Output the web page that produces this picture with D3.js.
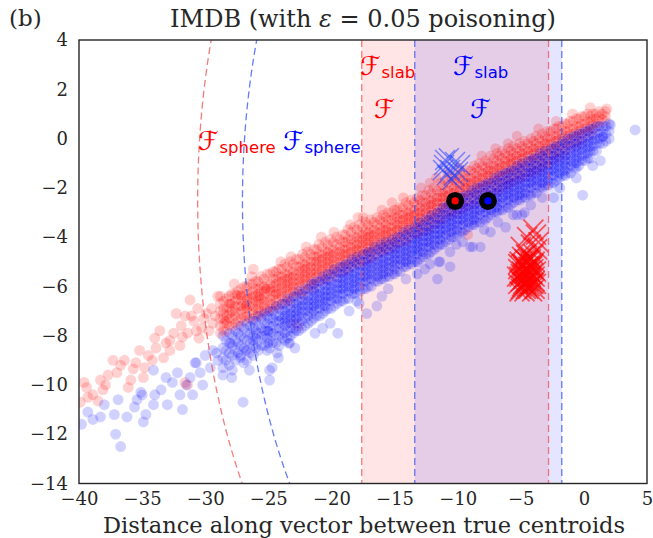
<!DOCTYPE html>
<html><head><meta charset="utf-8">
<script src="https://cdn.jsdelivr.net/npm/d3@7"></script>
<style>body{margin:0;background:#fff}svg{display:block}</style>
</head><body>
<script>
// ---------- data ----------
const xTicks = [-40,-35,-30,-25,-20,-15,-10,-5,0,5];
const yTicks = [4,2,0,-2,-4,-6,-8,-10,-12,-14];
const slabRed = [-17.6, -2.8];
const slabBlue = [-13.4, -1.75];
const centroidRed = [-10.2, -2.53];
const centroidBlue = [-7.6, -2.53];
const sphereRadius = [20.4, 19.45]; // red, blue

// red (clean class) points: columns [x, [y...]]
const redCols = [
[-28.8,[-6.7,-7.0,-7.3,-7.6,-7.9]],[-28.3,[-6.5,-6.9,-7.2,-7.5,-7.8]],[-27.9,[-6.3,-6.7,-7.0,-7.3,-7.6]],
[-27.4,[-6.2,-6.5,-6.8,-7.1,-7.4,-7.6]],[-26.9,[-6.0,-6.4,-6.7,-6.9,-7.2,-7.4]],[-26.5,[-5.9,-6.3,-6.5,-6.8,-7.1,-7.3]],
[-26.0,[-5.8,-6.1,-6.4,-6.6,-6.9,-7.2]],[-25.6,[-5.6,-6.0,-6.2,-6.5,-6.7,-7.0,-7.2]],[-25.1,[-5.5,-5.9,-6.1,-6.3,-6.6,-6.9,-7.0]],
[-24.6,[-5.4,-5.7,-6.0,-6.2,-6.4,-6.7,-6.9]],[-24.2,[-5.3,-5.6,-5.8,-6.1,-6.3,-6.5,-6.8]],[-23.7,[-5.1,-5.5,-5.7,-5.9,-6.1,-6.4,-6.6]],
[-23.3,[-5.0,-5.4,-5.6,-5.8,-6.0,-6.2,-6.5,-6.7]],[-22.8,[-4.9,-5.2,-5.5,-5.7,-5.9,-6.1,-6.3]],[-22.3,[-4.7,-5.1,-5.3,-5.5,-5.7,-5.9,-6.2,-6.4]],
[-21.9,[-4.6,-5.0,-5.2,-5.4,-5.6,-5.8,-6.1]],[-21.4,[-4.5,-4.8,-5.0,-5.3,-5.5,-5.7,-5.9,-6.1]],[-21.0,[-4.3,-4.7,-4.9,-5.1,-5.3,-5.5,-5.8]],
[-20.5,[-4.2,-4.6,-4.8,-5.0,-5.2,-5.4,-5.6,-5.8]],[-20.1,[-4.1,-4.5,-4.7,-4.9,-5.1,-5.3,-5.6]],[-19.6,[-4.0,-4.3,-4.6,-4.8,-5.0,-5.2,-5.4,-5.6]],
[-19.1,[-3.9,-4.2,-4.5,-4.7,-4.9,-5.1,-5.4]],[-18.7,[-3.7,-4.1,-4.3,-4.5,-4.7,-4.9,-5.2,-5.4]],[-18.2,[-3.6,-4.0,-4.2,-4.4,-4.6,-4.8,-5.1]],
[-17.8,[-3.5,-3.9,-4.1,-4.3,-4.5,-4.7,-4.9,-5.1]],[-17.3,[-3.4,-3.8,-4.0,-4.2,-4.4,-4.6,-4.9]],[-16.9,[-3.3,-3.7,-3.9,-4.1,-4.3,-4.5,-4.7,-4.9]],
[-16.4,[-3.2,-3.5,-3.8,-4.0,-4.2,-4.4,-4.7]],[-15.9,[-3.1,-3.4,-3.7,-3.9,-4.1,-4.3,-4.5,-4.6]],[-15.5,[-3.0,-3.3,-3.6,-3.8,-4.0,-4.2,-4.5]],
[-15.0,[-2.9,-3.2,-3.4,-3.6,-3.8,-4.0,-4.2,-4.4]],[-14.6,[-2.8,-3.1,-3.3,-3.5,-3.7,-3.9,-4.2]],[-14.1,[-2.6,-3.0,-3.2,-3.4,-3.6,-3.8,-4.0,-4.2]],
[-13.7,[-2.5,-2.9,-3.1,-3.3,-3.5,-3.7,-4.0]],[-13.2,[-2.4,-2.7,-3.0,-3.2,-3.4,-3.6,-3.8,-3.9]],[-12.8,[-2.3,-2.6,-2.9,-3.1,-3.3,-3.5,-3.8]],
[-12.3,[-2.1,-2.5,-2.7,-2.9,-3.1,-3.3,-3.5,-3.7]],[-11.9,[-2.0,-2.4,-2.6,-2.8,-3.0,-3.2,-3.5]],[-11.4,[-1.8,-2.2,-2.4,-2.6,-2.8,-3.0,-3.2,-3.4]],
[-11.0,[-1.7,-2.1,-2.3,-2.5,-2.7,-2.9,-3.2]],[-10.5,[-1.6,-1.9,-2.2,-2.4,-2.6,-2.8,-3.0,-3.1]],[-10.1,[-1.5,-1.8,-2.1,-2.3,-2.5,-2.7,-3.0]],
[-9.6,[-1.4,-1.7,-1.9,-2.1,-2.3,-2.5,-2.7,-2.9]],[-9.2,[-1.3,-1.6,-1.8,-2.0,-2.2,-2.4,-2.7]],[-8.7,[-1.1,-1.4,-1.7,-1.9,-2.1,-2.3,-2.5,-2.7]],
[-8.3,[-1.0,-1.3,-1.6,-1.8,-2.0,-2.2,-2.5]],[-7.8,[-0.9,-1.2,-1.4,-1.6,-1.8,-2.0,-2.2,-2.4]],[-7.4,[-0.7,-1.1,-1.3,-1.5,-1.7,-1.9,-2.2]],
[-6.9,[-0.6,-0.9,-1.2,-1.4,-1.6,-1.8,-2.0,-2.1]],[-6.5,[-0.5,-0.8,-1.1,-1.3,-1.5,-1.7,-2.0]],[-6.0,[-0.4,-0.7,-0.9,-1.1,-1.3,-1.5,-1.7,-1.9]],
[-5.6,[-0.3,-0.6,-0.8,-1.0,-1.2,-1.4,-1.7]],[-5.1,[-0.2,-0.5,-0.7,-0.9,-1.1,-1.3,-1.5,-1.6]],[-4.7,[-0.1,-0.4,-0.6,-0.8,-1.0,-1.2,-1.5]],
[-4.2,[0.0,-0.3,-0.5,-0.7,-0.9,-1.1,-1.3,-1.4]],[-3.8,[0.1,-0.2,-0.4,-0.6,-0.8,-1.0,-1.3]],[-3.3,[0.2,-0.1,-0.3,-0.5,-0.7,-0.9,-1.1,-1.2]],
[-2.9,[0.3,0.0,-0.2,-0.4,-0.6,-0.8,-1.1]],[-2.4,[0.4,0.1,-0.1,-0.3,-0.5,-0.7,-0.9]],[-2.0,[0.5,0.2,0.0,-0.2,-0.4,-0.6,-0.8]],
[-1.5,[0.6,0.3,0.1,-0.1,-0.3,-0.5,-0.7]],[-1.1,[0.7,0.4,0.2,0.0,-0.2,-0.4]],[-0.6,[0.8,0.5,0.3,0.1,-0.1,-0.3]],
[-0.2,[0.9,0.6,0.4,0.2,0.0,-0.2]],[0.3,[1.0,0.7,0.5,0.3,0.1]],[0.7,[1.0,0.8,0.6,0.4,0.2]],
[1.2,[1.1,0.9,0.7,0.5]],[1.7,[1.1,0.9,0.7]],
// second pass of columns
[-28.55,[-6.6,-6.9,-7.1,-7.3,-7.5,-7.8]],[-28.1,[-6.4,-6.7,-6.9,-7.1,-7.3,-7.6]],[-27.65,[-6.3,-6.6,-6.8,-7.0,-7.2,-7.5]],
[-27.15,[-6.1,-6.4,-6.6,-6.8,-7.0,-7.3]],[-26.7,[-6.0,-6.3,-6.5,-6.7,-6.9,-7.2]],[-26.25,[-5.9,-6.2,-6.4,-6.6,-6.8,-7.0,-7.3]],
[-25.8,[-5.8,-6.1,-6.3,-6.5,-6.7,-6.9,-7.1]],[-25.35,[-5.7,-6.0,-6.2,-6.4,-6.6,-6.8,-7.0]],[-24.85,[-5.5,-5.9,-6.1,-6.2,-6.5,-6.7,-6.9]],
[-24.4,[-5.4,-5.7,-5.9,-6.1,-6.3,-6.5,-6.8]],[-23.95,[-5.3,-5.6,-5.8,-6.0,-6.2,-6.4,-6.7]],[-23.5,[-5.2,-5.5,-5.7,-5.9,-6.1,-6.3,-6.6]],
[-23.05,[-5.1,-5.4,-5.6,-5.8,-6.0,-6.2,-6.4]],[-22.55,[-4.9,-5.2,-5.4,-5.6,-5.8,-6.0,-6.3]],[-22.1,[-4.8,-5.1,-5.3,-5.5,-5.7,-5.9,-6.2]],
[-21.65,[-4.7,-5.0,-5.2,-5.4,-5.6,-5.8,-6.0]],[-21.2,[-4.5,-4.8,-5.0,-5.2,-5.4,-5.6,-5.9]],[-20.75,[-4.4,-4.7,-4.9,-5.1,-5.3,-5.5,-5.7]],
[-20.3,[-4.3,-4.6,-4.8,-5.0,-5.2,-5.4,-5.7]],[-19.85,[-4.2,-4.5,-4.7,-4.9,-5.1,-5.3,-5.5]],[-19.35,[-4.1,-4.4,-4.6,-4.8,-5.0,-5.2,-5.4]],
[-18.9,[-3.9,-4.2,-4.5,-4.7,-4.9,-5.1,-5.3]],[-18.45,[-3.8,-4.1,-4.4,-4.6,-4.8,-5.0,-5.2]],[-18.0,[-3.7,-4.0,-4.3,-4.5,-4.7,-4.9,-5.1]],
[-17.55,[-3.6,-3.9,-4.1,-4.3,-4.5,-4.7,-5.0]],[-17.1,[-3.5,-3.8,-4.0,-4.2,-4.4,-4.6,-4.9]],[-16.65,[-3.4,-3.7,-3.9,-4.1,-4.3,-4.5,-4.8]],
[-16.15,[-3.3,-3.6,-3.8,-4.0,-4.2,-4.4,-4.6]],[-15.7,[-3.2,-3.5,-3.7,-3.9,-4.1,-4.3,-4.5]],[-15.25,[-3.0,-3.3,-3.6,-3.8,-4.0,-4.2,-4.4]],
[-14.8,[-2.9,-3.2,-3.5,-3.7,-3.9,-4.1,-4.3]],[-14.35,[-2.8,-3.1,-3.3,-3.5,-3.7,-3.9,-4.2]],[-13.9,[-2.7,-3.0,-3.2,-3.4,-3.6,-3.8,-4.1]],
[-13.45,[-2.6,-2.9,-3.1,-3.3,-3.5,-3.7,-3.9]],[-13.0,[-2.5,-2.8,-3.0,-3.2,-3.4,-3.6,-3.8]],[-12.55,[-2.3,-2.6,-2.8,-3.0,-3.2,-3.4,-3.7]],
[-12.1,[-2.2,-2.5,-2.7,-2.9,-3.1,-3.3,-3.6]],[-11.65,[-2.1,-2.4,-2.6,-2.8,-3.0,-3.2,-3.4]],[-11.2,[-1.9,-2.2,-2.4,-2.6,-2.8,-3.0,-3.3]],
[-10.75,[-1.8,-2.1,-2.3,-2.5,-2.7,-2.9,-3.1]],[-10.3,[-1.7,-2.0,-2.2,-2.4,-2.6,-2.8,-3.0]],[-9.85,[-1.6,-1.9,-2.1,-2.3,-2.5,-2.7,-2.9]],
[-9.4,[-1.5,-1.8,-2.0,-2.2,-2.4,-2.6,-2.8]],[-8.95,[-1.3,-1.6,-1.8,-2.0,-2.2,-2.4,-2.7]],[-8.5,[-1.2,-1.5,-1.7,-1.9,-2.1,-2.3,-2.6]],
[-8.05,[-1.1,-1.4,-1.6,-1.8,-2.0,-2.2,-2.4]],[-7.6,[-1.0,-1.3,-1.5,-1.7,-1.9,-2.1,-2.3]],[-7.15,[-0.8,-1.1,-1.3,-1.5,-1.7,-1.9,-2.2]],
[-6.7,[-0.7,-1.0,-1.2,-1.4,-1.6,-1.8,-2.1]],[-6.25,[-0.6,-0.9,-1.1,-1.3,-1.5,-1.7,-1.9]],[-5.8,[-0.5,-0.8,-1.0,-1.2,-1.4,-1.6,-1.8]],
[-5.35,[-0.4,-0.7,-0.9,-1.1,-1.3,-1.5,-1.7]],[-4.9,[-0.3,-0.6,-0.8,-1.0,-1.2,-1.4,-1.6]],[-4.45,[-0.2,-0.5,-0.7,-0.9,-1.1,-1.3,-1.5]],
[-4.0,[-0.1,-0.4,-0.6,-0.8,-1.0,-1.2,-1.4]],[-3.55,[0.0,-0.3,-0.5,-0.7,-0.9,-1.1,-1.3]],[-3.1,[0.1,-0.2,-0.4,-0.6,-0.8,-1.0]],
[-2.65,[0.3,0.0,-0.2,-0.4,-0.6,-0.9]],[-2.2,[0.4,0.1,-0.1,-0.3,-0.5,-0.7]],[-1.75,[0.5,0.2,0.0,-0.2,-0.4,-0.6]],
[-1.3,[0.6,0.3,0.1,-0.1,-0.3]],[-0.85,[0.7,0.4,0.2,0.0,-0.2]],[-0.4,[0.8,0.5,0.3,0.1,-0.1]],
[0.05,[0.9,0.6,0.4,0.2]],[0.5,[0.9,0.7,0.5,0.3]],[0.95,[1.0,0.8,0.6]],[1.45,[1.0,0.8]]
];
const redExtra = [
[-39.9,-10.7],[-39.4,-10.1],[-39.3,-10.5],[-38.5,-10.65],[-38.3,-9.8],[-38.1,-10.2],[-37.7,-9.6],[-37.3,-9.0],[-36.7,-9.2],
[-36.1,-10.1],[-35.7,-9.35],[-35.2,-8.6],[-34.9,-9.7],[-34.8,-9.3],[-34.0,-8.1],[-33.6,-7.8],[-32.8,-8.6],[-32.8,-8.2],
[-32.3,-7.1],[-31.8,-8.05],[-31.6,-7.2],[-31.2,-6.55],[-31.1,-7.2],[-30.7,-7.8],[-30.3,-7.7],[-29.9,-7.1],[-29.4,-7.5],
[-29.0,-6.4],[-28.8,-6.4],[-28.4,-7.4],[-28.0,-6.7],[-27.5,-6.35],[-27.2,-6.35],[-26.8,-6.8],[-26.2,-5.3],[-25.7,-6.4],
[-25.2,-6.1],[-22.6,-7.6],[-23.0,-7.5],[-31.6,-9.9],[-31.4,-10.0],[-18.5,-3.5],[-17.9,-3.2],[-12.2,-1.8],[-9.2,-3.9],
[-6.0,-0.2],[1.8,1.2],[-39.6,-9.9],[-38.9,-10.4],[-37.9,-10.0],[-37.0,-9.5],[-36.4,-9.0],[-35.9,-9.8],[-35.5,-9.1],
[-34.5,-8.8],[-34.2,-9.0],[-33.9,-8.5],[-33.3,-8.9],[-33.1,-8.3],[-32.5,-7.9],[-32.0,-8.4],[-31.9,-7.6],[-31.4,-7.9],
[-30.9,-7.4],[-30.5,-8.1],[-30.1,-7.3],[-29.7,-7.8],[-29.5,-6.9],[-29.2,-7.2],[-30.6,-6.9],
[-27.7,-5.9],[-26.3,-5.6],[-24.0,-5.0],[-22.0,-4.4],[-20.8,-4.0],[-19.8,-3.8],[-17.5,-3.2],[-16.0,-2.9],[-14.3,-2.4],
[-12.9,-2.0],[-11.7,-1.6],[-9.9,-1.2],[-8.1,-0.7],[-7.0,-0.4],[-5.3,0.1],[-3.6,0.4],[-2.2,0.7],[-0.9,1.0],[0.5,1.25],
[-23.2,-4.8],[-15.2,-2.6],[-10.8,-1.4]
];
// blue (clean class) points
const blueCols = [
[-28.6,[-8.0,-8.5,-8.9,-9.3]],[-28.1,[-7.9,-8.3,-8.7,-9.2]],[-27.6,[-7.8,-8.2,-8.6,-9.0]],[-27.2,[-7.6,-8.0,-8.4,-8.8]],
[-26.7,[-7.5,-7.9,-8.2,-8.6,-9.0]],[-26.2,[-7.4,-7.7,-8.0,-8.4,-8.8]],[-25.8,[-7.2,-7.6,-7.9,-8.2,-8.6]],[-25.3,[-7.1,-7.5,-7.8,-8.0,-8.4]],
[-24.9,[-7.0,-7.3,-7.6,-7.9,-8.2,-8.5]],[-24.4,[-6.8,-7.2,-7.4,-7.7,-8.0,-8.3]],[-23.9,[-6.7,-7.0,-7.3,-7.5,-7.8,-8.1]],
[-23.5,[-6.5,-6.9,-7.1,-7.3,-7.5,-7.8,-8.1]],[-23.0,[-6.4,-6.7,-7.0,-7.2,-7.4,-7.7,-7.9]],[-22.6,[-6.2,-6.6,-6.8,-7.0,-7.2,-7.5,-7.8]],
[-22.1,[-6.1,-6.4,-6.6,-6.8,-7.0,-7.3,-7.6]],[-21.6,[-5.9,-6.2,-6.5,-6.7,-6.9,-7.1,-7.4]],[-21.2,[-5.8,-6.1,-6.3,-6.5,-6.7,-6.9,-7.2]],
[-20.7,[-5.6,-5.9,-6.2,-6.4,-6.6,-6.8,-7.1]],[-20.3,[-5.5,-5.8,-6.0,-6.2,-6.4,-6.6,-6.9]],[-19.8,[-5.3,-5.6,-5.9,-6.1,-6.3,-6.5,-6.8]],
[-19.3,[-5.2,-5.5,-5.7,-5.9,-6.1,-6.3,-6.6]],[-18.9,[-5.1,-5.4,-5.6,-5.8,-6.0,-6.2,-6.5]],[-18.4,[-4.9,-5.2,-5.5,-5.7,-5.9,-6.1,-6.3]],
[-18.0,[-4.8,-5.1,-5.4,-5.6,-5.8,-6.0,-6.3]],[-17.5,[-4.7,-5.0,-5.2,-5.4,-5.6,-5.8,-6.1]],[-17.1,[-4.6,-4.9,-5.1,-5.3,-5.5,-5.7,-6.0]],
[-16.6,[-4.4,-4.7,-5.0,-5.2,-5.4,-5.6,-5.8]],[-16.1,[-4.3,-4.6,-4.9,-5.1,-5.3,-5.5,-5.7]],[-15.7,[-4.2,-4.5,-4.8,-5.0,-5.2,-5.4,-5.6]],
[-15.2,[-4.1,-4.4,-4.6,-4.8,-5.0,-5.2,-5.5]],[-14.8,[-4.0,-4.3,-4.5,-4.7,-4.9,-5.1,-5.4]],[-14.3,[-3.8,-4.1,-4.4,-4.6,-4.8,-5.0,-5.2]],
[-13.9,[-3.7,-4.0,-4.3,-4.5,-4.7,-4.9,-5.1]],[-13.4,[-3.6,-3.9,-4.1,-4.3,-4.5,-4.7,-5.0]],[-13.0,[-3.4,-3.7,-4.0,-4.2,-4.4,-4.6,-4.9]],
[-12.5,[-3.3,-3.6,-3.8,-4.0,-4.2,-4.4,-4.7]],[-12.1,[-3.1,-3.4,-3.7,-3.9,-4.1,-4.3,-4.6]],[-11.6,[-3.0,-3.3,-3.5,-3.7,-3.9,-4.1,-4.4]],
[-11.2,[-2.8,-3.1,-3.4,-3.6,-3.8,-4.0,-4.3]],[-10.7,[-2.7,-3.0,-3.2,-3.4,-3.6,-3.8,-4.1]],[-10.3,[-2.5,-2.8,-3.1,-3.3,-3.5,-3.7,-4.0]],
[-9.8,[-2.4,-2.7,-2.9,-3.1,-3.3,-3.5,-3.8]],[-9.4,[-2.3,-2.6,-2.8,-3.0,-3.2,-3.4,-3.7]],[-8.9,[-2.1,-2.4,-2.7,-2.9,-3.1,-3.3,-3.5]],
[-8.5,[-2.0,-2.3,-2.6,-2.8,-3.0,-3.2,-3.4]],[-8.0,[-1.9,-2.2,-2.4,-2.6,-2.8,-3.0,-3.3]],[-7.6,[-1.8,-2.1,-2.3,-2.5,-2.7,-2.9,-3.2]],
[-7.1,[-1.6,-1.9,-2.2,-2.4,-2.6,-2.8,-3.0]],[-6.7,[-1.5,-1.8,-2.1,-2.3,-2.5,-2.7,-2.9]],[-6.2,[-1.4,-1.7,-1.9,-2.1,-2.3,-2.5,-2.8]],
[-5.8,[-1.3,-1.6,-1.8,-2.0,-2.2,-2.4,-2.7]],[-5.3,[-1.1,-1.4,-1.7,-1.9,-2.1,-2.3,-2.5]],[-4.9,[-1.0,-1.3,-1.6,-1.8,-2.0,-2.2,-2.4]],
[-4.4,[-0.9,-1.2,-1.4,-1.6,-1.8,-2.0,-2.3]],[-4.0,[-0.8,-1.1,-1.3,-1.5,-1.7,-1.9,-2.2]],[-3.5,[-0.6,-0.9,-1.2,-1.4,-1.6,-1.8,-2.0]],
[-3.1,[-0.5,-0.8,-1.1,-1.3,-1.5,-1.7,-1.9]],[-2.6,[-0.4,-0.7,-0.9,-1.1,-1.3,-1.5,-1.8]],[-2.2,[-0.3,-0.6,-0.8,-1.0,-1.2,-1.4,-1.7]],
[-1.7,[-0.1,-0.4,-0.7,-0.9,-1.1,-1.3,-1.5]],[-1.3,[0.0,-0.3,-0.6,-0.8,-1.0,-1.2,-1.4]],[-0.8,[0.1,-0.2,-0.4,-0.6,-0.8,-1.0,-1.2]],
[-0.4,[0.2,-0.1,-0.3,-0.5,-0.7,-0.9,-1.1]],[0.1,[0.3,0.0,-0.2,-0.4,-0.6,-0.9]],[0.5,[0.4,0.1,-0.1,-0.3,-0.5,-0.8]],
[1.0,[0.5,0.2,0.0,-0.2,-0.5]],[1.5,[0.5,0.3,0.1,-0.2]],[2.0,[0.6,0.3,0.0]],
// second pass of columns
[-28.35,[-8.2,-8.6,-9.0]],[-27.85,[-8.0,-8.4,-8.8,-9.4]],[-27.4,[-7.9,-8.3,-8.7]],[-26.95,[-7.7,-8.1,-8.5,-9.1]],
[-26.45,[-7.6,-7.9,-8.3,-8.7]],[-26.0,[-7.4,-7.8,-8.1,-8.5]],[-25.55,[-7.3,-7.7,-8.0,-8.4]],[-25.1,[-7.2,-7.5,-7.8,-8.1,-8.6]],
[-24.65,[-7.0,-7.3,-7.6,-7.9,-8.3]],[-24.15,[-6.9,-7.2,-7.4,-7.7,-8.0,-8.4]],[-23.7,[-6.7,-7.0,-7.2,-7.4,-7.6,-7.9,-8.2]],
[-23.25,[-6.6,-6.9,-7.1,-7.3,-7.5,-7.7,-8.0]],[-22.8,[-6.4,-6.7,-6.9,-7.1,-7.3,-7.5,-7.8]],[-22.35,[-6.3,-6.6,-6.8,-7.0,-7.2,-7.4,-7.7]],
[-21.85,[-6.1,-6.4,-6.6,-6.8,-7.0,-7.2,-7.5]],[-21.4,[-5.9,-6.2,-6.4,-6.6,-6.8,-7.0,-7.3]],[-20.95,[-5.8,-6.1,-6.3,-6.5,-6.7,-6.9,-7.2]],
[-20.5,[-5.7,-6.0,-6.2,-6.4,-6.6,-6.8,-7.0]],[-20.05,[-5.5,-5.8,-6.0,-6.2,-6.4,-6.6,-6.9]],[-19.55,[-5.4,-5.7,-5.9,-6.1,-6.3,-6.5,-6.7]],
[-19.1,[-5.2,-5.5,-5.7,-5.9,-6.1,-6.3,-6.6]],[-18.65,[-5.1,-5.4,-5.6,-5.8,-6.0,-6.2,-6.5]],[-18.2,[-5.0,-5.3,-5.5,-5.7,-5.9,-6.1,-6.3]],
[-17.75,[-4.9,-5.2,-5.4,-5.6,-5.8,-6.0,-6.2]],[-17.3,[-4.7,-5.0,-5.2,-5.4,-5.6,-5.8,-6.1]],[-16.85,[-4.6,-4.9,-5.1,-5.3,-5.5,-5.7,-6.0]],
[-16.35,[-4.5,-4.8,-5.0,-5.2,-5.4,-5.6,-5.8]],[-15.9,[-4.4,-4.7,-4.9,-5.1,-5.3,-5.5,-5.7]],[-15.45,[-4.3,-4.6,-4.8,-5.0,-5.2,-5.4,-5.6]],
[-15.0,[-4.2,-4.5,-4.7,-4.9,-5.1,-5.3,-5.5]],[-14.55,[-4.0,-4.3,-4.5,-4.7,-4.9,-5.1,-5.4]],[-14.1,[-3.9,-4.2,-4.4,-4.6,-4.8,-5.0,-5.2]],
[-13.65,[-3.8,-4.1,-4.3,-4.5,-4.7,-4.9,-5.1]],[-13.2,[-3.6,-3.9,-4.1,-4.3,-4.5,-4.7,-5.0]],[-12.75,[-3.5,-3.8,-4.0,-4.2,-4.4,-4.6,-4.8]],
[-12.3,[-3.3,-3.6,-3.8,-4.0,-4.2,-4.4,-4.7]],[-11.85,[-3.2,-3.5,-3.7,-3.9,-4.1,-4.3,-4.5]],[-11.4,[-3.0,-3.3,-3.5,-3.7,-3.9,-4.1,-4.3]],
[-10.95,[-2.8,-3.1,-3.3,-3.5,-3.7,-3.9,-4.2]],[-10.5,[-2.7,-3.0,-3.2,-3.4,-3.6,-3.8,-4.0]],[-10.05,[-2.6,-2.9,-3.1,-3.3,-3.5,-3.7,-3.9]],
[-9.6,[-2.4,-2.7,-2.9,-3.1,-3.3,-3.5,-3.8]],[-9.15,[-2.3,-2.6,-2.8,-3.0,-3.2,-3.4,-3.6]],[-8.7,[-2.2,-2.5,-2.7,-2.9,-3.1,-3.3,-3.5]],
[-8.25,[-2.0,-2.3,-2.5,-2.7,-2.9,-3.1,-3.4]],[-7.8,[-1.9,-2.2,-2.4,-2.6,-2.8,-3.0,-3.3]],[-7.35,[-1.8,-2.1,-2.3,-2.5,-2.7,-2.9,-3.1]],
[-6.9,[-1.7,-2.0,-2.2,-2.4,-2.6,-2.8,-3.0]],[-6.45,[-1.5,-1.8,-2.0,-2.2,-2.4,-2.6,-2.9]],[-6.0,[-1.4,-1.7,-1.9,-2.1,-2.3,-2.5,-2.8]],
[-5.55,[-1.3,-1.6,-1.8,-2.0,-2.2,-2.4,-2.6]],[-5.1,[-1.2,-1.5,-1.7,-1.9,-2.1,-2.3,-2.5]],[-4.65,[-1.1,-1.4,-1.6,-1.8,-2.0,-2.2,-2.4]],
[-4.2,[-0.9,-1.2,-1.4,-1.6,-1.8,-2.0,-2.3]],[-3.75,[-0.8,-1.1,-1.3,-1.5,-1.7,-1.9,-2.2]],[-3.3,[-0.7,-1.0,-1.2,-1.4,-1.6,-1.8,-2.0]],
[-2.85,[-0.6,-0.9,-1.1,-1.3,-1.5,-1.7,-1.9]],[-2.4,[-0.4,-0.7,-0.9,-1.1,-1.3,-1.5,-1.8]],[-1.95,[-0.3,-0.6,-0.8,-1.0,-1.2,-1.4,-1.6]],
[-1.5,[-0.2,-0.5,-0.7,-0.9,-1.1,-1.3,-1.5]],[-1.05,[0.0,-0.3,-0.5,-0.7,-0.9,-1.1,-1.4]],[-0.6,[0.1,-0.2,-0.4,-0.6,-0.8,-1.0,-1.2]],
[-0.15,[0.2,-0.1,-0.3,-0.5,-0.7,-0.9]],[0.3,[0.3,0.0,-0.2,-0.4,-0.6,-0.8]],[0.75,[0.4,0.1,-0.1,-0.3,-0.5]],
[1.25,[0.5,0.2,0.0,-0.2]],[1.75,[0.5,0.2,-0.1]]
];
const blueExtra = [
[-39.8,-11.6],[-38.9,-11.4],[-38.3,-11.3],[-37.2,-11.2],[-37.1,-12.0],[-36.7,-12.5],[-35.6,-10.9],[-34.9,-11.5],[-34.7,-11.2],
[-34.1,-10.8],[-34.0,-10.4],[-35.1,-10.3],[-35.0,-10.4],[-31.8,-11.0],[-32.0,-10.4],[-31.5,-10.0],[-31.2,-9.7],[-33.1,-9.7],
[-34.1,-9.4],[-30.7,-9.1],[-30.8,-9.1],[-28.6,-9.6],[-27.0,-10.7],[-29.1,-8.7],[-28.0,-8.3],[-27.2,-8.9],[-26.8,-8.6],
[-25.0,-7.8],[-24.9,-9.4],[-26.2,-8.2],[-24.9,-9.8],[-24.7,-9.3],[-23.4,-8.3],[-24.3,-8.7],[-25.0,-8.3],[-23.3,-8.3],
[-19.5,-7.9],[-20.7,-7.7],[-17.2,-7.1],[-16.4,-6.8],[-16.0,-6.4],[-18.0,-6.6],[-11.6,-5.7],[-12.6,-5.3],[-11.5,-5.0],
[-0.1,-2.3],[-2.4,-2.4],[1.3,-0.9],[-7.4,-3.8],[-6.2,-3.6],[-4.9,-3.1],[-8.8,-4.4],[-10.6,-4.6],[-8.2,-4.4],[-9.0,-4.4],
[-10.6,-5.2],[-11.4,-5.0],[-5.3,-3.1],[-4.7,-3.0],[4.06,0.35],[2.1,0.55],[1.5,0.06],
[-39.3,-11.1],[-38.0,-10.8],[-36.9,-10.6],[-36.2,-11.3],[-35.4,-10.6],[-33.5,-10.2],[-33.0,-10.8],[-32.6,-9.9],[-32.2,-9.5],
[-31.0,-10.4],[-30.4,-9.5],[-30.0,-8.8],[-29.6,-9.3],[-29.4,-8.6],[-29.0,-9.0],[-30.2,-10.0],
[-27.9,-9.7],[-26.5,-9.4],[-24.2,-8.9],[-22.9,-8.5],[-21.3,-7.9],[-20.1,-7.5],[-18.6,-7.0],[-17.8,-6.7],[-15.5,-6.1],
[-14.1,-5.7],[-13.2,-5.5],[-12.2,-5.1],[-9.6,-4.2],[-7.9,-3.7],[-6.8,-3.4],[-5.6,-3.1],[-4.2,-2.7],[-3.3,-2.4],
[-1.9,-2.0],[-0.6,-1.6],[0.7,-1.1],[-10.1,-4.3]
];
// poisoned points (x markers)
const blueX = [[-11.08,-1.07],[-11.0,-0.87],[-10.6,-1.28],[-10.21,-0.95],[-10.84,-1.48],[-11.16,-1.28],[-9.97,-1.36],[-10.44,-1.68],[-9.81,-1.07],[-10.7,-0.8],[-10.3,-1.5]];
const redX = [
[-4.9,-4.8],[-4.6,-4.7],[-4.3,-4.8],[-4.0,-4.7],[-5.1,-5.0],[-4.8,-5.1],[-4.5,-5.0],[-4.2,-5.1],[-3.9,-5.0],[-5.2,-5.3],
[-4.9,-5.4],[-4.6,-5.3],[-4.3,-5.4],[-4.0,-5.3],[-5.1,-5.6],[-4.8,-5.7],[-4.5,-5.6],[-4.2,-5.7],[-3.9,-5.6],[-5.2,-5.9],
[-4.9,-6.0],[-4.6,-5.9],[-4.3,-6.0],[-4.0,-5.9],[-5.0,-6.1],[-4.7,-6.2],[-4.4,-6.1],[-4.1,-6.2],[-4.7,-4.9],[-4.4,-5.2],
[-4.1,-5.5],[-4.7,-5.5],[-5.0,-5.8],[-4.4,-5.8],[-4.1,-5.9],[-4.8,-5.2],[-4.5,-5.4],[-4.2,-5.6],[-4.6,-5.8],[-4.3,-5.2],
[-5.0,-5.5],[-3.9,-5.8],[-4.5,-6.0],[-4.9,-5.1],[-4.0,-5.1],[-5.3,-5.6],[-3.8,-5.4],[-5.2,-5.1],[-3.8,-5.9],[-4.6,-6.1],
[-4.2,-4.9],[-5.1,-6.2],[-3.9,-6.1],[-4.4,-4.9],[-4.8,-5.9],[-4.1,-5.2],
[-4.0,-3.7],[-3.8,-3.9],[-4.5,-4.0],[-4.2,-4.3],[-3.6,-4.2],[-5.0,-4.4],[-3.7,-4.5]
];

// ---------- drawing ----------
const W = 653, H = 538;
const x = d3.scaleLinear().domain([-40, 5]).range([79, 647]);
const y = d3.scaleLinear().domain([-14, 4]).range([483.5, 40]);
const svg = d3.select("body").append("svg").attr("width", W).attr("height", H);
svg.append("defs").append("clipPath").attr("id","clip").append("rect")
  .attr("x",79).attr("y",40).attr("width",568).attr("height",443.5);
const plot = svg.append("g").attr("clip-path","url(#clip)");

// slabs
plot.append("rect").attr("x",x(slabRed[0])).attr("width",x(slabRed[1])-x(slabRed[0]))
  .attr("y",y(4)).attr("height",y(-14)-y(4)).attr("fill","#ff0000").attr("fill-opacity",0.1);
plot.append("rect").attr("x",x(slabBlue[0])).attr("width",x(slabBlue[1])-x(slabBlue[0]))
  .attr("y",y(4)).attr("height",y(-14)-y(4)).attr("fill","#0000ff").attr("fill-opacity",0.1);

// points
const redPts = redCols.flatMap(([cx, ys]) => ys.map(v => [cx, v])).concat(redExtra);
const bluePts = blueCols.flatMap(([cx, ys]) => ys.map(v => [cx, v])).concat(blueExtra);
function dots(data, col){
  plot.append("g").selectAll("circle").data(data).join("circle")
    .attr("cx", d => x(d[0])).attr("cy", d => y(d[1])).attr("r", 5.5)
    .attr("fill", col).attr("fill-opacity", 0.18)
    .attr("stroke", "#fff").attr("stroke-opacity", 0.25).attr("stroke-width", 0.6);
}
dots(redPts, "#ff0000");
dots(bluePts, "#0000ff");

// x markers
function xs(data, col, op, sw){
  plot.append("g").selectAll("path").data(data).join("path")
    .attr("transform", d => `translate(${x(d[0])},${y(d[1])})`)
    .attr("d", "M-10,-10L10,10M-10,10L10,-10")
    .attr("stroke", col).attr("stroke-width", sw).attr("stroke-opacity", op).attr("fill","none");
}
xs(blueX, "#2040ff", 0.55, 1.5);
xs(redX, "#ff0000", 0.6, 1.8);

// dashed slab lines
function vline(v, col){
  plot.append("line").attr("x1",x(v)).attr("x2",x(v)).attr("y1",y(4)).attr("y2",y(-14))
    .attr("stroke",col).attr("stroke-width",1.3).attr("stroke-dasharray","7,4");
}
const redLine = "rgba(240,80,80,0.75)", blueLine = "rgba(50,80,240,0.75)";
vline(slabRed[0], redLine); vline(slabRed[1], redLine);
vline(slabBlue[0], blueLine); vline(slabBlue[1], blueLine);

// sphere boundaries (circle around centroid)
function sphere(c, r, col){
  const ys = d3.range(-14.2, 4.21, 0.2);
  const line = d3.line().x(d => x(c[0] - Math.sqrt(r*r - (d - c[1])*(d - c[1])))).y(d => y(d));
  plot.append("path").attr("d", line(ys)).attr("fill","none")
    .attr("stroke",col).attr("stroke-width",1.3).attr("stroke-dasharray","7,4");
}
sphere(centroidRed, sphereRadius[0], redLine);
sphere(centroidBlue, sphereRadius[1], blueLine);

// centroids
[[centroidRed,"#ff0000"],[centroidBlue,"#0000ff"]].forEach(([c,col])=>{
  plot.append("circle").attr("cx",x(c[0])).attr("cy",y(c[1])).attr("r",9).attr("fill","#000");
  plot.append("circle").attr("cx",x(c[0])).attr("cy",y(c[1])).attr("r",3.6).attr("fill",col);
});

// labels
function flabel(px, py, sub, col){
  const t = svg.append("text").attr("x",px).attr("y",py).attr("fill",col);
  t.append("tspan").attr("font-family","DejaVu Sans").attr("font-style","italic").attr("font-size",26).text("\u2131");
  if (sub) t.append("tspan").attr("font-family","DejaVu Sans").attr("font-size",16.5).attr("dy",3).attr("dx",1).text(sub);
}
flabel(198,150,"sphere","#ff0000");
flabel(283,150,"sphere","#0000ff");
flabel(360,75,"slab","#ff0000");
flabel(453,75,"slab","#0000ff");
flabel(374,118,null,"#ff0000");
flabel(470,118,null,"#0000ff");

// frame
svg.append("rect").attr("x",79).attr("y",40).attr("width",568).attr("height",443.5)
  .attr("fill","none").attr("stroke","#262626").attr("stroke-width",1.4);

// axes
const fmt = d3.format("d");
const gx = svg.append("g").attr("transform","translate(0,483.5)")
  .call(d3.axisBottom(x).tickValues(xTicks).tickSize(0).tickPadding(9).tickFormat(fmt));
const gy = svg.append("g").attr("transform","translate(79,0)")
  .call(d3.axisLeft(y).tickValues(yTicks).tickSize(0).tickPadding(11).tickFormat(fmt));
[gx, gy].forEach(g => {
  g.select(".domain").remove();
  g.selectAll("text").attr("font-family","DejaVu Serif").attr("font-size",18).attr("fill","#262626");
});

// titles
svg.append("text").attr("x",9).attr("y",26).attr("font-family","DejaVu Serif").attr("font-size",23)
  .attr("fill","#262626").text("(b)");
const tt = svg.append("text").attr("x",363).attr("y",27).attr("text-anchor","middle")
  .attr("font-family","DejaVu Serif").attr("font-size",24).attr("fill","#262626");
tt.append("tspan").text("IMDB (with ");
tt.append("tspan").attr("font-style","italic").text("ε");
tt.append("tspan").text(" = 0.05 poisoning)");
svg.append("text").attr("x",364).attr("y",533).attr("text-anchor","middle")
  .attr("font-family","DejaVu Serif").attr("font-size",22.5).attr("fill","#262626")
  .text("Distance along vector between true centroids");
</script>
</body></html>
